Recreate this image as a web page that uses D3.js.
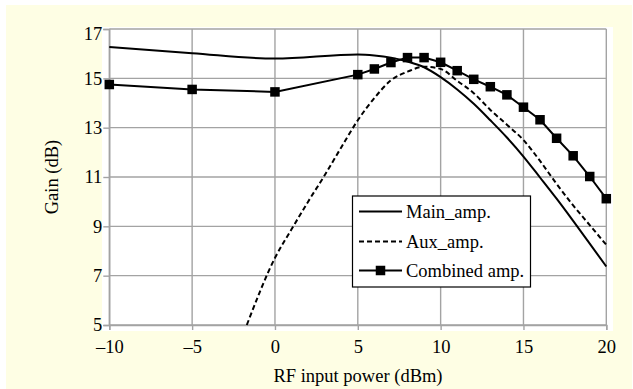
<!DOCTYPE html>
<html>
<head>
<meta charset="utf-8">
<script src="https://cdn.jsdelivr.net/npm/d3@7"></script>
<style>
  html, body { margin: 0; padding: 0; background: #ffffff; }
  svg { display: block; }
  text { font-family: "Liberation Serif", "Times New Roman", serif; fill: #000; }
</style>
</head>
<body>
<svg id="chart" width="633" height="389"></svg>
<script>
// ---- data ----
const mainX   = [-10, -5, 0, 5, 6, 7, 8, 9, 10, 11, 12, 13, 14, 15, 16, 17, 18, 19, 20];
const mainY   = [16.27, 16.02, 15.8, 15.97, 15.93, 15.84, 15.68, 15.45, 15.05, 14.55, 13.97, 13.3, 12.6, 11.83, 10.98, 10.12, 9.22, 8.3, 7.37];
const auxX    = [-1.7, 0, 1, 2, 3, 4, 5, 6, 7, 8, 9, 10, 11, 12, 13, 14, 15, 16, 17, 18, 19, 20];
const auxY    = [5.0, 7.72, 8.88, 10.0, 11.07, 12.2, 13.3, 14.2, 14.92, 15.27, 15.47, 15.38, 14.9, 14.4, 13.72, 13.12, 12.5, 11.65, 10.72, 9.85, 9.05, 8.25];
const combX   = [-10, -5, 0, 5, 6, 7, 8, 9, 10, 11, 12, 13, 14, 15, 16, 17, 18, 19, 20];
const combY   = [14.75, 14.55, 14.45, 15.15, 15.38, 15.64, 15.84, 15.84, 15.65, 15.31, 14.96, 14.66, 14.33, 13.83, 13.32, 12.57, 11.86, 11.02, 10.12];
const xTicks  = [-10, -5, 0, 5, 10, 15, 20];
const yTicks  = [5, 7, 9, 11, 13, 15, 17];
const seriesNames = ["Main_amp.", "Aux_amp.", "Combined amp."];
const xTitle = "RF input power (dBm)";
const yTitle = "Gain (dB)";

// ---- layout ----
const svg = d3.select("#chart");
const FS = 18.5;
const x = d3.scaleLinear().domain([-10, 20]).range([109.3, 606.3]);
const y = d3.scaleLinear().domain([5, 17]).range([325, 29]);
const grid = "#a3a3a3";

// backgrounds
svg.append("rect").attr("x", 6).attr("y", 5).attr("width", 626).attr("height", 384).attr("fill", "#fefee4");
svg.append("rect").attr("x", 102).attr("y", 27).attr("width", 511).attr("height", 304).attr("fill", "#ffffff");

// gridlines
const g = svg.append("g");
g.selectAll("line.hg").data(yTicks).join("line")
  .attr("x1", x(-10)).attr("x2", x(20))
  .attr("y1", d => y(d)).attr("y2", d => y(d))
  .attr("stroke", grid).attr("stroke-width", 1.4);
g.selectAll("line.vg").data(xTicks).join("line")
  .attr("y1", y(17)).attr("y2", y(5))
  .attr("x1", d => x(d)).attr("x2", d => x(d))
  .attr("stroke", grid).attr("stroke-width", 1.4);

// axes
const fmt = d => d < 0 ? "\u2013" + Math.abs(d) : String(d);
const xAxis = svg.append("g").attr("transform", `translate(0,${y(5)})`)
  .call(d3.axisBottom(x).tickValues(xTicks).tickSize(5).tickPadding(10).tickFormat(fmt));
const yAxis = svg.append("g").attr("transform", `translate(${x(-10)},0)`)
  .call(d3.axisLeft(y).tickValues(yTicks).tickSize(6).tickPadding(1).tickFormat(fmt));
[xAxis, yAxis].forEach(a => {
  a.select(".domain").attr("stroke", grid).attr("stroke-width", 1.4);
  a.selectAll(".tick line").attr("stroke", grid).attr("stroke-width", 1.4);
  a.selectAll("text").attr("font-size", FS).attr("font-family", "Liberation Serif").attr("fill", "#000");
});
yAxis.selectAll(".tick").filter(d => d === 17).select("text").attr("dy", "0.55em");

// titles
svg.append("text").attr("x", 358).attr("y", 382).attr("text-anchor", "middle")
  .attr("font-size", FS).text(xTitle);
svg.append("text").attr("transform", "translate(58,177) rotate(-90)").attr("text-anchor", "middle")
  .attr("font-size", FS).text(yTitle);

// lines
const toPts = (xs, ys) => xs.map((v, i) => [v, ys[i]]);
const smooth = d3.line().x(d => x(d[0])).y(d => y(d[1])).curve(d3.curveMonotoneX);
const straight = d3.line().x(d => x(d[0])).y(d => y(d[1]));

svg.append("path").attr("d", smooth(toPts(auxX, auxY)))
  .attr("fill", "none").attr("stroke", "#000").attr("stroke-width", 2).attr("stroke-dasharray", "5,3");
svg.append("path").attr("d", smooth(toPts(mainX, mainY)))
  .attr("fill", "none").attr("stroke", "#000").attr("stroke-width", 2);
const comb = toPts(combX, combY);
svg.append("path").attr("d", straight(comb))
  .attr("fill", "none").attr("stroke", "#000").attr("stroke-width", 2);
const MS = 9.5;
svg.selectAll("rect.mk").data(comb).join("rect")
  .attr("x", d => x(d[0]) - MS / 2).attr("y", d => y(d[1]) - MS / 2)
  .attr("width", MS).attr("height", MS).attr("fill", "#000");

// legend
const lg = svg.append("g");
lg.append("rect").attr("x", 352.5).attr("y", 196).attr("width", 178).attr("height", 91)
  .attr("fill", "#fff").attr("stroke", "#000").attr("stroke-width", 1.2);
const rows = [211.5, 241.5, 270.5];
const styles = [null, "5,3", null];
seriesNames.forEach((name, i) => {
  lg.append("line").attr("x1", 359).attr("x2", 402).attr("y1", rows[i]).attr("y2", rows[i])
    .attr("stroke", "#000").attr("stroke-width", 2).attr("stroke-dasharray", styles[i]);
  if (i === 2) {
    lg.append("rect").attr("x", 380.5 - MS / 2).attr("y", rows[i] - MS / 2)
      .attr("width", MS).attr("height", MS).attr("fill", "#000");
  }
  lg.append("text").attr("x", 406).attr("y", rows[i]).attr("dy", "0.33em")
    .attr("font-size", FS).text(name);
});
</script>
</body>
</html>
